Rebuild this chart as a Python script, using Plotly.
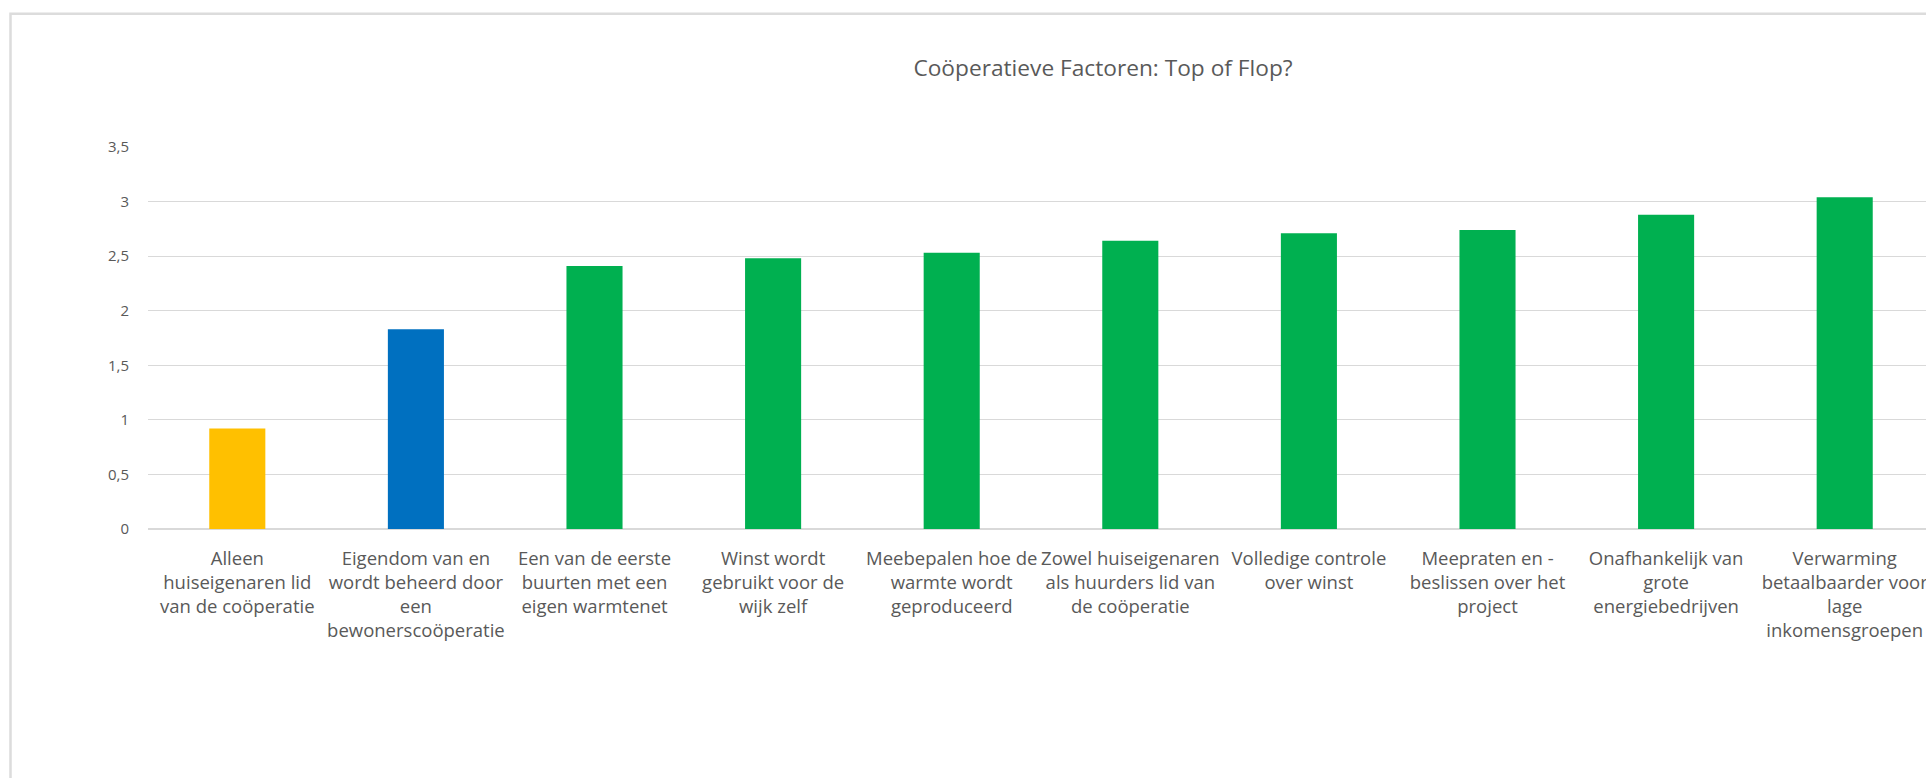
import plotly.graph_objects as go

# ---- data ----
categories = [
    "Alleen<br>huiseigenaren lid<br>van de coöperatie",
    "Eigendom van en<br>wordt beheerd door<br>een<br>bewonerscoöperatie",
    "Een van de eerste<br>buurten met een<br>eigen warmtenet",
    "Winst wordt<br>gebruikt voor de<br>wijk zelf",
    "Meebepalen hoe de<br>warmte wordt<br>geproduceerd",
    "Zowel huiseigenaren<br>als huurders lid van<br>de coöperatie",
    "Volledige controle<br>over winst",
    "Meepraten en -<br>beslissen over het<br>project",
    "Onafhankelijk van<br>grote<br>energiebedrijven",
    "Verwarming<br>betaalbaarder voor<br>lage<br>inkomensgroepen",
]
values = [0.92, 1.83, 2.41, 2.48, 2.53, 2.64, 2.71, 2.74, 2.88, 3.04]
y_tickvals = [0, 0.5, 1, 1.5, 2, 2.5, 3, 3.5]
y_ticktext = ["0", "0,5", "1", "1,5", "2", "2,5", "3", "3,5"]
title_text = "Coöperatieve Factoren: Top of Flop?"

# ---- style ----
bar_colors = ["#FFC000", "#0070C0"] + ["#00B050"] * 8
W, H = 1926, 778
ML, MR, MT, MB = 148, 0, 146.7, 778 - 529.3
plot_w = W - ML - MR
plot_h = H - MT - MB
label_color = "#595959"
grid_color = "#d9d9d9"

fig = go.Figure(
    go.Bar(
        x=list(range(len(categories))),
        y=values,
        marker=dict(color=bar_colors, line=dict(width=0)),
        width=0.314,
        hoverinfo="skip",
    )
)

# x range: category spacing so that last part of the chart is cut at the page edge
x_right = -0.5 + plot_w / 178.6

fig.update_layout(
    width=W,
    height=H,
    margin=dict(l=ML, r=MR, t=MT, b=MB, pad=0),
    paper_bgcolor="white",
    plot_bgcolor="white",
    showlegend=False,
    font=dict(family="Open Sans", color=label_color),
    title=dict(
        text=title_text,
        x=1103 / W,
        xanchor="center",
        xref="container",
        y=1 - 68.5 / H,
        yref="container",
        yanchor="middle",
        font=dict(family="Open Sans", size=22.7, color=label_color),
    ),
    xaxis=dict(
        range=[-0.5, x_right],
        tickmode="array",
        tickvals=list(range(len(categories))),
        ticktext=categories,
        tickangle=0,
        tickfont=dict(family="Open Sans", size=18.5, color=label_color),
        showgrid=False,
        showline=False,
        zeroline=False,
        ticks="",
        ticklabelstandoff=16,
        ticklabeloverflow="allow",
        automargin=False,
        fixedrange=True,
    ),
    yaxis=dict(
        range=[0, 3.5],
        tickmode="array",
        tickvals=y_tickvals,
        ticktext=y_ticktext,
        tickfont=dict(family="Open Sans", size=15, color=label_color),
        showgrid=True,
        gridcolor=grid_color,
        gridwidth=1.3,
        zeroline=True,
        zerolinecolor=grid_color,
        zerolinewidth=1.5,
        showline=False,
        ticks="",
        ticklabelstandoff=18,
        automargin=False,
        fixedrange=True,
    ),
)

# outer chart border (cut off at right and bottom in the reference)
def px_to_paper_x(px):
    return (px - ML) / plot_w

def px_to_paper_y(py):
    return (H - MB - py) / plot_h

fig.add_shape(
    type="rect",
    xref="paper",
    yref="paper",
    x0=px_to_paper_x(10.5),
    x1=px_to_paper_x(W + 300),
    y0=px_to_paper_y(H + 300),
    y1=px_to_paper_y(13.3),
    line=dict(color="#dcdcdc", width=2.5),
    fillcolor="rgba(0,0,0,0)",
    layer="below",
)

fig.write_html("out.html", config={"displayModeBar": False})
